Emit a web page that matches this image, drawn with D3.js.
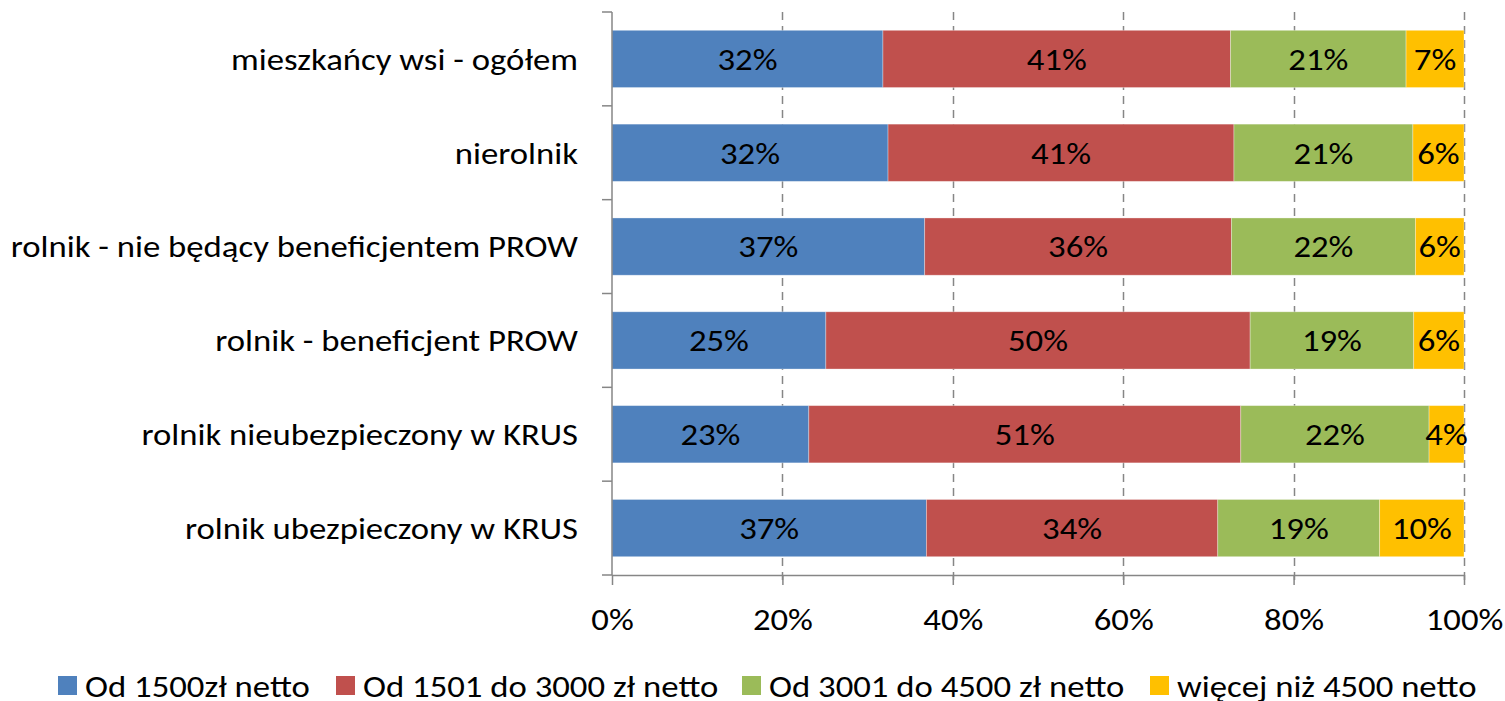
<!DOCTYPE html>
<html><head><meta charset="utf-8">
<script src="https://cdn.jsdelivr.net/npm/d3@7"></script>
<style>body{margin:0;background:#fff}svg{display:block}text{font-family:Calibri,Carlito,Lato,sans-serif;fill:#000}</style>
</head><body><svg id="c" width="1505" height="701"></svg>
<script>
const categories = ["mieszkańcy wsi - ogółem","nierolnik","rolnik - nie będący beneficjentem PROW","rolnik - beneficjent PROW","rolnik nieubezpieczony w KRUS","rolnik ubezpieczony w KRUS"];
const seriesNames = ["Od 1500zł netto","Od 1501 do 3000 zł netto","Od 3001 do 4500 zł netto","więcej niż 4500 netto"];
const s1 = [31.8,32.4,36.7,25.1,23.1,36.9];
const s2 = [40.8,40.6,36.0,49.8,50.7,34.2];
const s3 = [20.6,21.0,21.6,19.2,22.1,19.0];
const s4 = [6.8,6.0,5.7,5.9,4.1,9.9];
const xTicks = [0,20,40,60,80,100];
const colors = ["#4F81BD","#C0504D","#9BBB59","#FFC000"];

const FS = 31, SX = 1.12;
const svg = d3.select("#c");
const L=612,R=1464,T=12,B=575;
const x = d3.scaleLinear().domain([0,100]).range([L,R]);
const y = d3.scaleBand().domain(categories).range([T,B]).paddingInner(0.39).paddingOuter(0.195);
const data = categories.map((c,i)=>({cat:c, v:[s1[i],s2[i],s3[i],s4[i]]}));

function stretch(sel){
  sel.each(function(){
    const t=d3.select(this); const ax=+t.attr("x")||0;
    t.attr("transform",`translate(${ax},0) scale(${SX},1) translate(${-ax},0)`);
  });
}

// gridlines
svg.append("g").selectAll("line").data(xTicks.filter(d=>d>0)).join("line")
  .attr("x1",d=>Math.round(x(d))+0.5).attr("x2",d=>Math.round(x(d))+0.5)
  .attr("y1",T).attr("y2",B+10)
  .attr("stroke","#868686").attr("stroke-width",1.5).attr("stroke-dasharray","8,6");

// bars
const labels=[];
data.forEach(d=>{
  let acc=0;
  d.v.forEach((v,j)=>{
    const x0=x(acc), x1=x(acc+v);
    svg.append("rect").attr("x",x0).attr("y",y(d.cat)).attr("width",x1-x0).attr("height",y.bandwidth())
      .attr("fill",colors[j]).attr("stroke","#fff").attr("stroke-opacity",0.4).attr("stroke-width",0.8);
    labels.push({x:(x0+x1)/2, y:y(d.cat)+y.bandwidth()/2, t:d3.format(".0f")(v)+"%"});
    acc+=v;
  });
});
svg.append("g").selectAll("text").data(labels).join("text")
  .attr("x",d=>d.x).attr("y",d=>d.y).attr("dy","0.35em").attr("text-anchor","middle")
  .attr("font-size",FS).text(d=>d.t).call(stretch);

// axes
const gx = svg.append("g").attr("transform",`translate(0,${B})`)
  .call(d3.axisBottom(x).tickValues(xTicks).tickFormat(d=>d+"%").tickSize(10));
gx.select(".domain").attr("stroke","#868686").attr("stroke-width",1.5).attr("d",`M${L},0.5H${R}`);
gx.selectAll(".tick line").attr("stroke","#868686").attr("stroke-width",1.5);
gx.selectAll(".tick text").attr("font-size",FS).attr("font-family","Calibri,Carlito,Lato,sans-serif")
  .attr("fill","#000").attr("y",55).attr("dy",0).attr("x",0).call(stretch);

const bounds = d3.range(categories.length+1).map(i=>T+i*(B-T)/categories.length);
svg.append("line").attr("x1",L).attr("x2",L).attr("y1",T).attr("y2",B).attr("stroke","#868686").attr("stroke-width",1.5);
svg.append("g").selectAll("line").data(bounds).join("line")
  .attr("x1",L-10).attr("x2",L).attr("y1",d=>d).attr("y2",d=>d).attr("stroke","#868686").attr("stroke-width",1.5);
svg.append("g").selectAll("text").data(categories).join("text")
  .attr("x",578).attr("y",d=>y(d)+y.bandwidth()/2).attr("dy","0.35em").attr("text-anchor","end")
  .attr("font-size",FS).text(d=>d).call(stretch);

// legend
const legX=[58,336,742,1150];
const lg = svg.append("g").selectAll("g").data(seriesNames).join("g")
  .attr("transform",(d,i)=>`translate(${legX[i]},676)`);
lg.append("rect").attr("width",19).attr("height",19).attr("fill",(d,i)=>colors[i]);
lg.append("text").attr("x",27).attr("y",10).attr("dy","0.35em").attr("font-size",FS).text(d=>d).call(stretch);
</script></body></html>
